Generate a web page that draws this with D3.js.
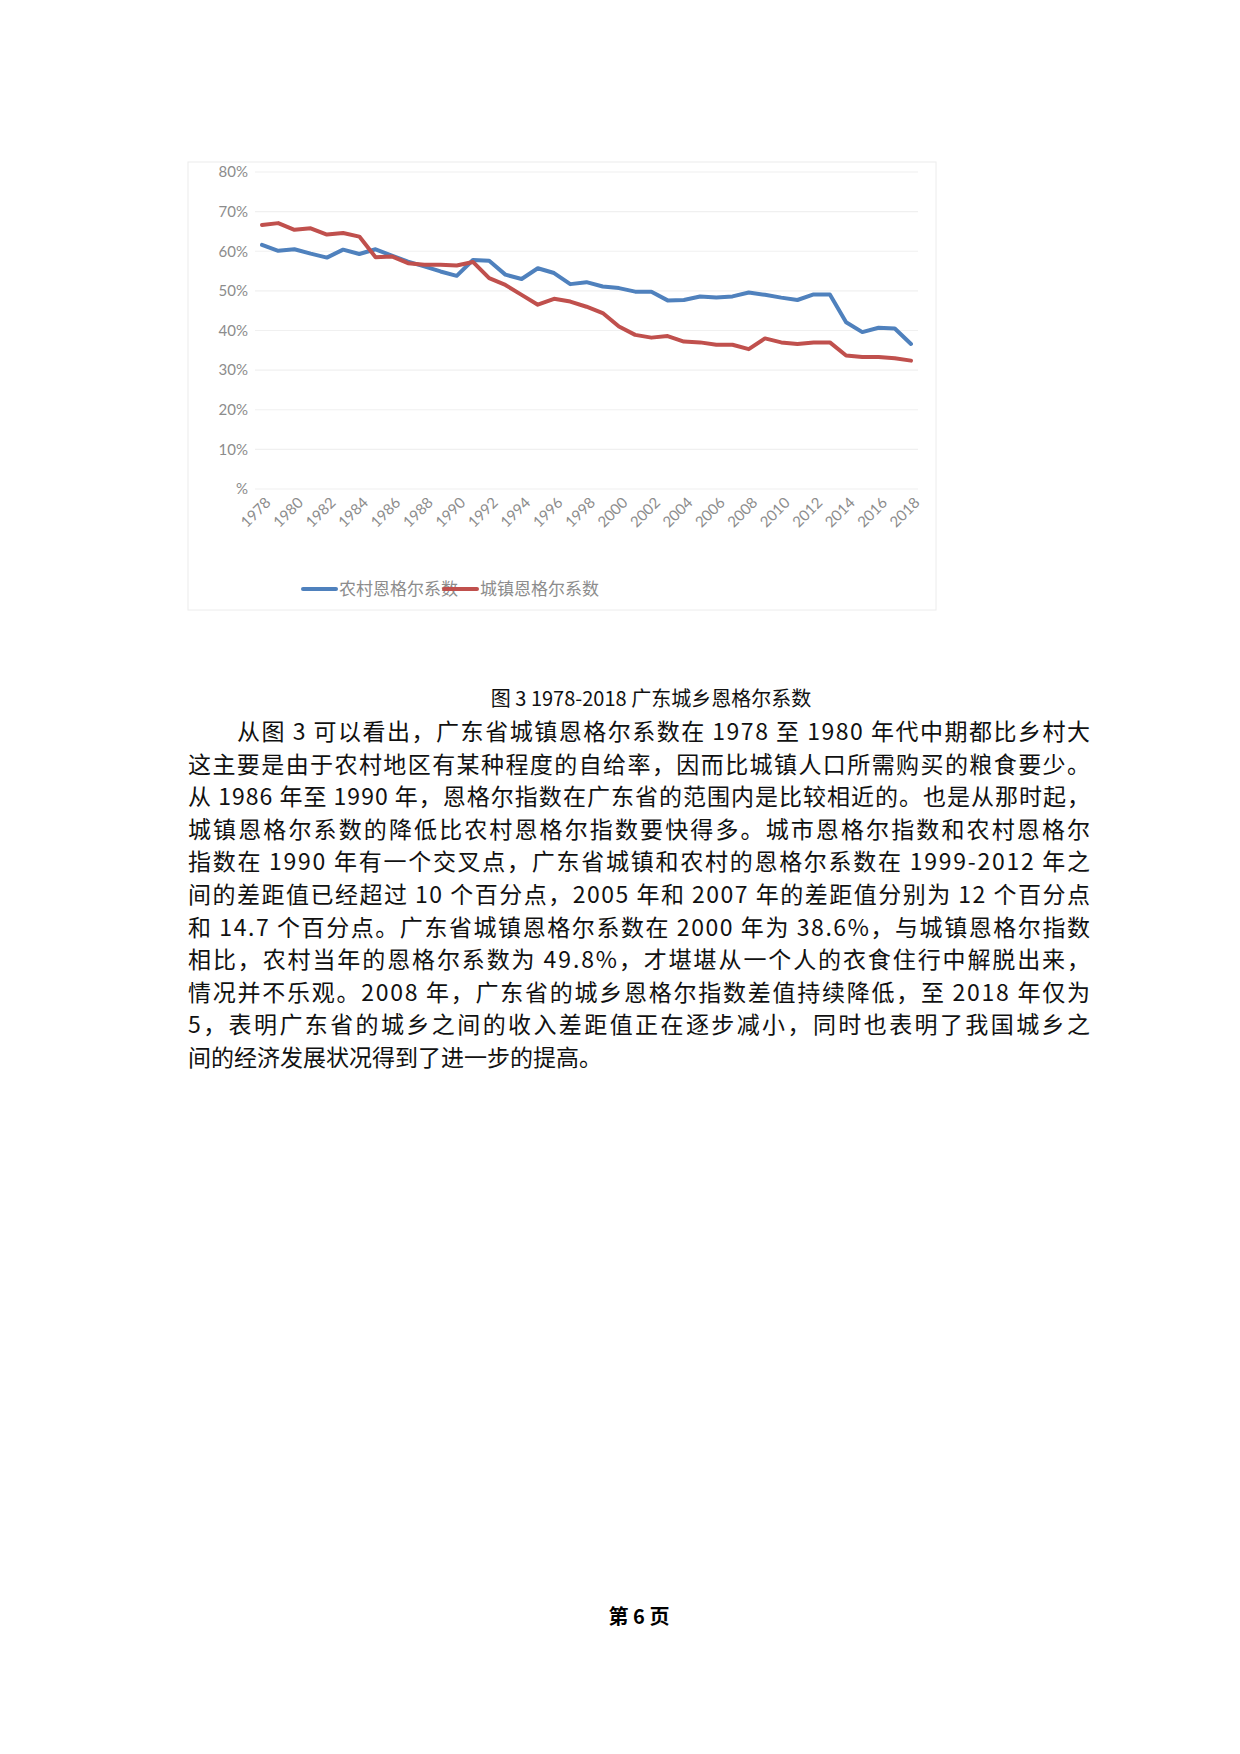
<!DOCTYPE html>
<html><head><meta charset="utf-8">
<script src="https://cdn.jsdelivr.net/npm/d3@7"></script>
<style>body{margin:0;background:#fff}</style>
</head><body>
<script>
var years = d3.range(1978, 2019);
var rural = [61.6,60.1,60.5,59.4,58.4,60.4,59.3,60.5,58.9,57.4,56.2,54.9,53.8,57.8,57.6,54.1,53.0,55.7,54.5,51.7,52.2,51.1,50.7,49.8,49.8,47.6,47.7,48.6,48.3,48.6,49.6,49.0,48.3,47.7,49.1,49.1,42.1,39.6,40.7,40.5,36.6];
var urban = [66.6,67.1,65.4,65.8,64.2,64.6,63.7,58.5,58.7,57.0,56.6,56.6,56.4,57.3,53.2,51.5,49.0,46.5,48.0,47.3,46.0,44.4,41.0,38.9,38.2,38.6,37.2,37.0,36.4,36.4,35.3,38.0,37.0,36.6,37.0,37.0,33.7,33.3,33.3,33.0,32.4,31.6];
urban = urban.slice(0, 41);
var yTicks = [0,10,20,30,40,50,60,70,80];
var seriesNames = ["农村恩格尔系数","城镇恩格尔系数"];
var colors = ["#4f81bd","#c0504d"];
var caption = "图 3 1978-2018 广东城乡恩格尔系数";
var lines = [
 "从图 3 可以看出，广东省城镇恩格尔系数在 1978 至 1980 年代中期都比乡村大",
 "这主要是由于农村地区有某种程度的自给率，因而比城镇人口所需购买的粮食要少。",
 "从 1986 年至 1990 年，恩格尔指数在广东省的范围内是比较相近的。也是从那时起，",
 "城镇恩格尔系数的降低比农村恩格尔指数要快得多。城市恩格尔指数和农村恩格尔",
 "指数在 1990 年有一个交叉点，广东省城镇和农村的恩格尔系数在 1999-2012 年之",
 "间的差距值已经超过 10 个百分点，2005 年和 2007 年的差距值分别为 12 个百分点",
 "和 14.7 个百分点。广东省城镇恩格尔系数在 2000 年为 38.6%，与城镇恩格尔指数",
 "相比，农村当年的恩格尔系数为 49.8%，才堪堪从一个人的衣食住行中解脱出来，",
 "情况并不乐观。2008 年，广东省的城乡恩格尔指数差值持续降低，至 2018 年仅为",
 "5，表明广东省的城乡之间的收入差距值正在逐步减小，同时也表明了我国城乡之",
 "间的经济发展状况得到了进一步的提高。"
];

var svg = d3.select("body").append("svg").attr("width",1240).attr("height",1754);

// chart frame
svg.append("rect").attr("x",188).attr("y",162).attr("width",748).attr("height",448)
  .attr("fill","#fff").attr("stroke","#ececec");

var x = d3.scalePoint().domain(years).range([262,911]);
var y = d3.scaleLinear().domain([0,80]).range([489,172]);

var gy = svg.append("g");
gy.selectAll("line").data(yTicks).enter().append("line")
  .attr("x1",255).attr("x2",918).attr("y1",d=>y(d)).attr("y2",d=>y(d))
  .attr("stroke","#f0f0f0").attr("stroke-width",1.2);
gy.selectAll("text").data(yTicks).enter().append("text")
  .attr("x",248).attr("y",d=>y(d)).attr("dy","0.35em").attr("text-anchor","end")
  .attr("font-family","Lato").attr("font-size",15).attr("fill","#8c8c8c")
  .text(d=> d===0 ? "%" : d+"%");

var xl = years.filter(d=>d%2===0);
svg.append("g").selectAll("text").data(xl).enter().append("text")
  .attr("transform",d=>"translate("+(x(d)+6)+",500) rotate(-45)")
  .attr("text-anchor","end").attr("dy","0.35em")
  .attr("font-family","Lato").attr("font-size",15).attr("fill","#8c8c8c")
  .text(d=>d);

var line = d3.line().x((d,i)=>x(years[i])).y(d=>y(d));
[rural, urban].forEach(function(s,i){
  svg.append("path").datum(s).attr("d",line).attr("fill","none")
    .attr("stroke",colors[i]).attr("stroke-width",4).attr("stroke-linejoin","round").attr("stroke-linecap","round");
});

// legend
var lx = [303,444];
seriesNames.forEach(function(n,i){
  svg.append("line").attr("x1",lx[i]).attr("x2",lx[i]+33).attr("y1",589).attr("y2",589)
    .attr("stroke",colors[i]).attr("stroke-width",4).attr("stroke-linecap","round");
  svg.append("text").attr("x",lx[i]+36).attr("y",589).attr("dy","0.35em")
    .attr("font-family","Noto Sans CJK SC").attr("font-size",17).attr("fill","#8c8c8c").text(n);
});

// caption and body text
svg.append("text").attr("x",651).attr("y",699).attr("dy","0.35em").attr("text-anchor","middle")
  .attr("font-family","Noto Sans CJK SC").attr("font-size",20).attr("fill","#111").text(caption);

svg.append("g").selectAll("text").data(lines).enter().append("text")
  .attr("x",(d,i)=> i===0 ? 237 : 188)
  .attr("y",(d,i)=>732+i*32.6).attr("dy","0.35em")
  .attr("font-family","Noto Sans CJK SC").attr("font-size",23).attr("fill","#111")
  .each(function(d,i){
    if(i<lines.length-1){
      d3.select(this).attr("textLength", i===0 ? 853 : 902).attr("lengthAdjust","spacing");
    }
  })
  .text(d=>d);

svg.append("text").attr("x",639).attr("y",1617).attr("dy","0.35em").attr("text-anchor","middle")
  .attr("font-family","Noto Sans CJK SC").attr("font-weight","bold").attr("font-size",20).attr("fill","#000").text("第 6 页");
</script>
</body></html>
